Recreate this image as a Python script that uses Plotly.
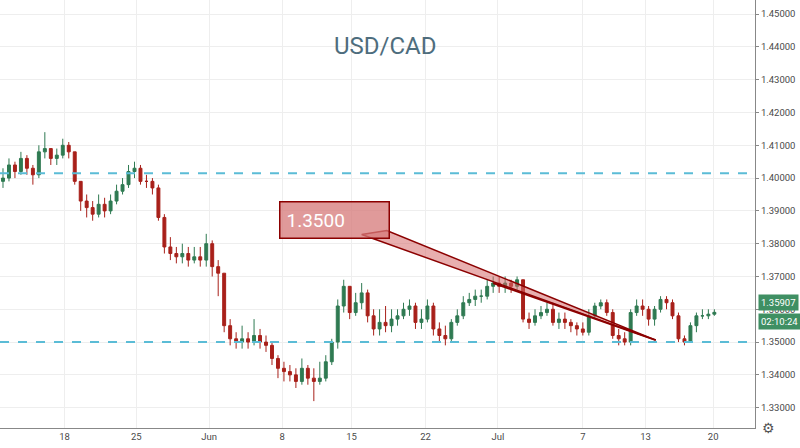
import plotly.graph_objects as go

close = [1.4000,1.4040,1.4020,1.4060,1.4030,1.4010,1.4080,1.4090,1.4060,1.4070,
         1.4100,1.4080,1.3990,1.3930,1.3910,1.3890,1.3920,1.3900,1.3930,1.3960,
         1.3980,1.4020,1.4030,1.3990,1.3990,1.3970,1.3880,1.3790,1.3770,1.3760,
         1.3770,1.3750,1.3760,1.3750,1.3800,1.3730,1.3710,1.3550,1.3510,1.3500,
         1.3510,1.3500,1.3520,1.3500,1.3490,1.3450,1.3420,1.3410,1.3400,1.3380,
         1.3420,1.3390,1.3380,1.3390,1.3440,1.3500,1.3610,1.3670,1.3590,1.3620,
         1.3650,1.3580,1.3540,1.3560,1.3550,1.3570,1.3580,1.3600,1.3610,1.3560,
         1.3570,1.3610,1.3540,1.3520,1.3510,1.3560,1.3580,1.3620,1.3630,1.3640,
         1.3640,1.3670,1.3680,1.3670,1.3680,1.3670,1.3690,1.3570,1.3560,1.3580,
         1.3590,1.3600,1.3560,1.3570,1.3560,1.3550,1.3540,1.3530,1.3580,1.3610,
         1.3620,1.3590,1.3520,1.3510,1.3500,1.3590,1.3610,1.3600,1.3570,1.3600,
         1.3630,1.3620,1.3580,1.3510,1.3500,1.3550,1.3580,1.3580,1.3585,1.35907]
high = [1.4030,1.4060,1.4050,1.4080,1.4070,1.4040,1.4100,1.4140,1.4090,1.4090,
        1.4120,1.4110,1.4080,1.3990,1.3950,1.3930,1.3950,1.3940,1.3950,1.3980,
        1.4000,1.4040,1.4050,1.4040,1.4010,1.4000,1.3980,1.3890,1.3820,1.3790,
        1.3800,1.3790,1.3790,1.3790,1.3830,1.3810,1.3750,1.3710,1.3570,1.3530,
        1.3550,1.3530,1.3570,1.3540,1.3520,1.3500,1.3460,1.3440,1.3430,1.3420,
        1.3450,1.3430,1.3420,1.3440,1.3460,1.3510,1.3630,1.3690,1.3670,1.3650,
        1.3680,1.3660,1.3600,1.3600,1.3610,1.3600,1.3600,1.3620,1.3630,1.3620,
        1.3600,1.3630,1.3620,1.3560,1.3550,1.3570,1.3600,1.3640,1.3650,1.3660,
        1.3660,1.3690,1.3700,1.3700,1.3700,1.3690,1.3700,1.3690,1.3590,1.3600,
        1.3610,1.3620,1.3620,1.3590,1.3590,1.3570,1.3560,1.3560,1.3600,1.3620,
        1.3630,1.3630,1.3600,1.3540,1.3530,1.3600,1.3630,1.3630,1.3610,1.3610,
        1.3640,1.3640,1.3630,1.3590,1.3520,1.3560,1.3590,1.3600,1.3600,1.3600]
low = [1.3970,1.3990,1.4000,1.4010,1.4010,1.3980,1.4000,1.4060,1.4040,1.4040,
       1.4060,1.4060,1.3980,1.3900,1.3880,1.3870,1.3880,1.3880,1.3890,1.3920,
       1.3950,1.3970,1.4000,1.3980,1.3970,1.3950,1.3870,1.3770,1.3750,1.3740,
       1.3740,1.3730,1.3740,1.3730,1.3730,1.3700,1.3640,1.3530,1.3490,1.3480,
       1.3480,1.3480,1.3490,1.3480,1.3470,1.3430,1.3390,1.3380,1.3380,1.3360,
       1.3370,1.3370,1.3320,1.3370,1.3380,1.3430,1.3480,1.3590,1.3570,1.3580,
       1.3600,1.3560,1.3520,1.3520,1.3530,1.3530,1.3550,1.3570,1.3580,1.3540,
       1.3540,1.3560,1.3520,1.3500,1.3490,1.3500,1.3550,1.3570,1.3610,1.3610,
       1.3620,1.3630,1.3650,1.3650,1.3650,1.3650,1.3660,1.3560,1.3540,1.3550,
       1.3570,1.3580,1.3550,1.3540,1.3540,1.3530,1.3520,1.3520,1.3520,1.3570,
       1.3600,1.3580,1.3510,1.3490,1.3490,1.3490,1.3580,1.3580,1.3550,1.3550,
       1.3590,1.3600,1.3570,1.3500,1.3490,1.3500,1.3530,1.3570,1.3570,1.3580]
opens = [close[0] - 0.0010] + close[:-1]
idx = list(range(len(close)))

tick_pos = [10.3, 22.3, 34.5, 46.7, 58.3, 70.7, 82.8, 97, 107.5, 118.8]
tick_text = ["18", "25", "Jun", "8", "15", "22", "Jul", "7", "13", "20"]
y_ticks = [1.33 + 0.01 * k for k in range(13)]
levels = [1.4015, 1.3500]

fig = go.Figure(go.Candlestick(
    x=idx, open=opens, high=high, low=low, close=close,
    increasing=dict(line=dict(color="#2f7a52", width=1), fillcolor="#2f7a52"),
    decreasing=dict(line=dict(color="#a8201a", width=1), fillcolor="#a8201a"),
    whiskerwidth=0, showlegend=False, hoverinfo="skip"))

shapes = []
for lv in levels:
    shapes.append(dict(type="line", xref="paper", x0=0, x1=1, y0=lv, y1=lv,
                       line=dict(color="#5bbcd6", width=2, dash="dash")))
shapes.append(dict(type="path", path="M 60,1.3828 L 64.2,1.3840 L 109.2,1.3506 Z",
                   fillcolor="rgba(214,110,110,0.55)", line=dict(color="#8b0000", width=1.5)))
shapes.append(dict(type="line", x0=82, y0=1.3680, x1=109.2, y1=1.3506,
                   line=dict(color="#8b0000", width=2)))
fig.update_layout(shapes=shapes)

fig.add_annotation(x=55.5, y=1.3873, text="1.3500        ", showarrow=False,
                   font=dict(family="Roboto", size=19, color="white"),
                   bgcolor="rgba(214,120,120,0.75)", bordercolor="#8b0000", borderwidth=1.5,
                   borderpad=6, align="left")
fig.add_annotation(x=0.51, xref="paper", y=1.4403, text="USD/CAD", showarrow=False,
                   font=dict(family="Roboto", size=24, color="#4e6d7d"))
fig.add_annotation(x=1.0, xref="paper", y=close[-1], text=f"{close[-1]:.5f}", showarrow=False,
                   xanchor="left", yanchor="bottom", font=dict(size=9.5, color="white"),
                   bgcolor="#3f8f63", borderpad=2, xshift=3, yshift=1)
fig.add_annotation(x=1.0, xref="paper", y=close[-1], text="02:10:24", showarrow=False,
                   xanchor="left", yanchor="top", font=dict(size=9.5, color="white"),
                   bgcolor="#3f8f63", borderpad=2, xshift=3, yshift=-1)
fig.add_annotation(x=1.0, xref="paper", y=0, yref="paper", yshift=-10, xshift=22,
                   text="⚙", showarrow=False, font=dict(size=14, color="#555"))

fig.update_layout(
    width=800, height=448, margin=dict(l=0, r=45, t=0, b=20, autoexpand=False),
    paper_bgcolor="white", plot_bgcolor="white",
    font=dict(family="Roboto", color="#4a4a4a", size=9.5),
    xaxis=dict(range=[-0.5, 125.8], tickvals=tick_pos, ticktext=tick_text, automargin=False,
               showgrid=True, gridcolor="#eeeeee", rangeslider=dict(visible=False),
               showline=True, linecolor="#888", ticks="", zeroline=False),
    yaxis=dict(side="right", range=[1.3238, 1.4543], tickvals=y_ticks, automargin=False,
               tickformat=".5f", showgrid=True, gridcolor="#eeeeee",
               showline=True, linecolor="#888", ticks="outside", ticklen=3, tickcolor="#888",
               zeroline=False),
)
fig.write_html("out.html", config={"displayModeBar": False},
               post_script="document.body.style.margin='0';")
